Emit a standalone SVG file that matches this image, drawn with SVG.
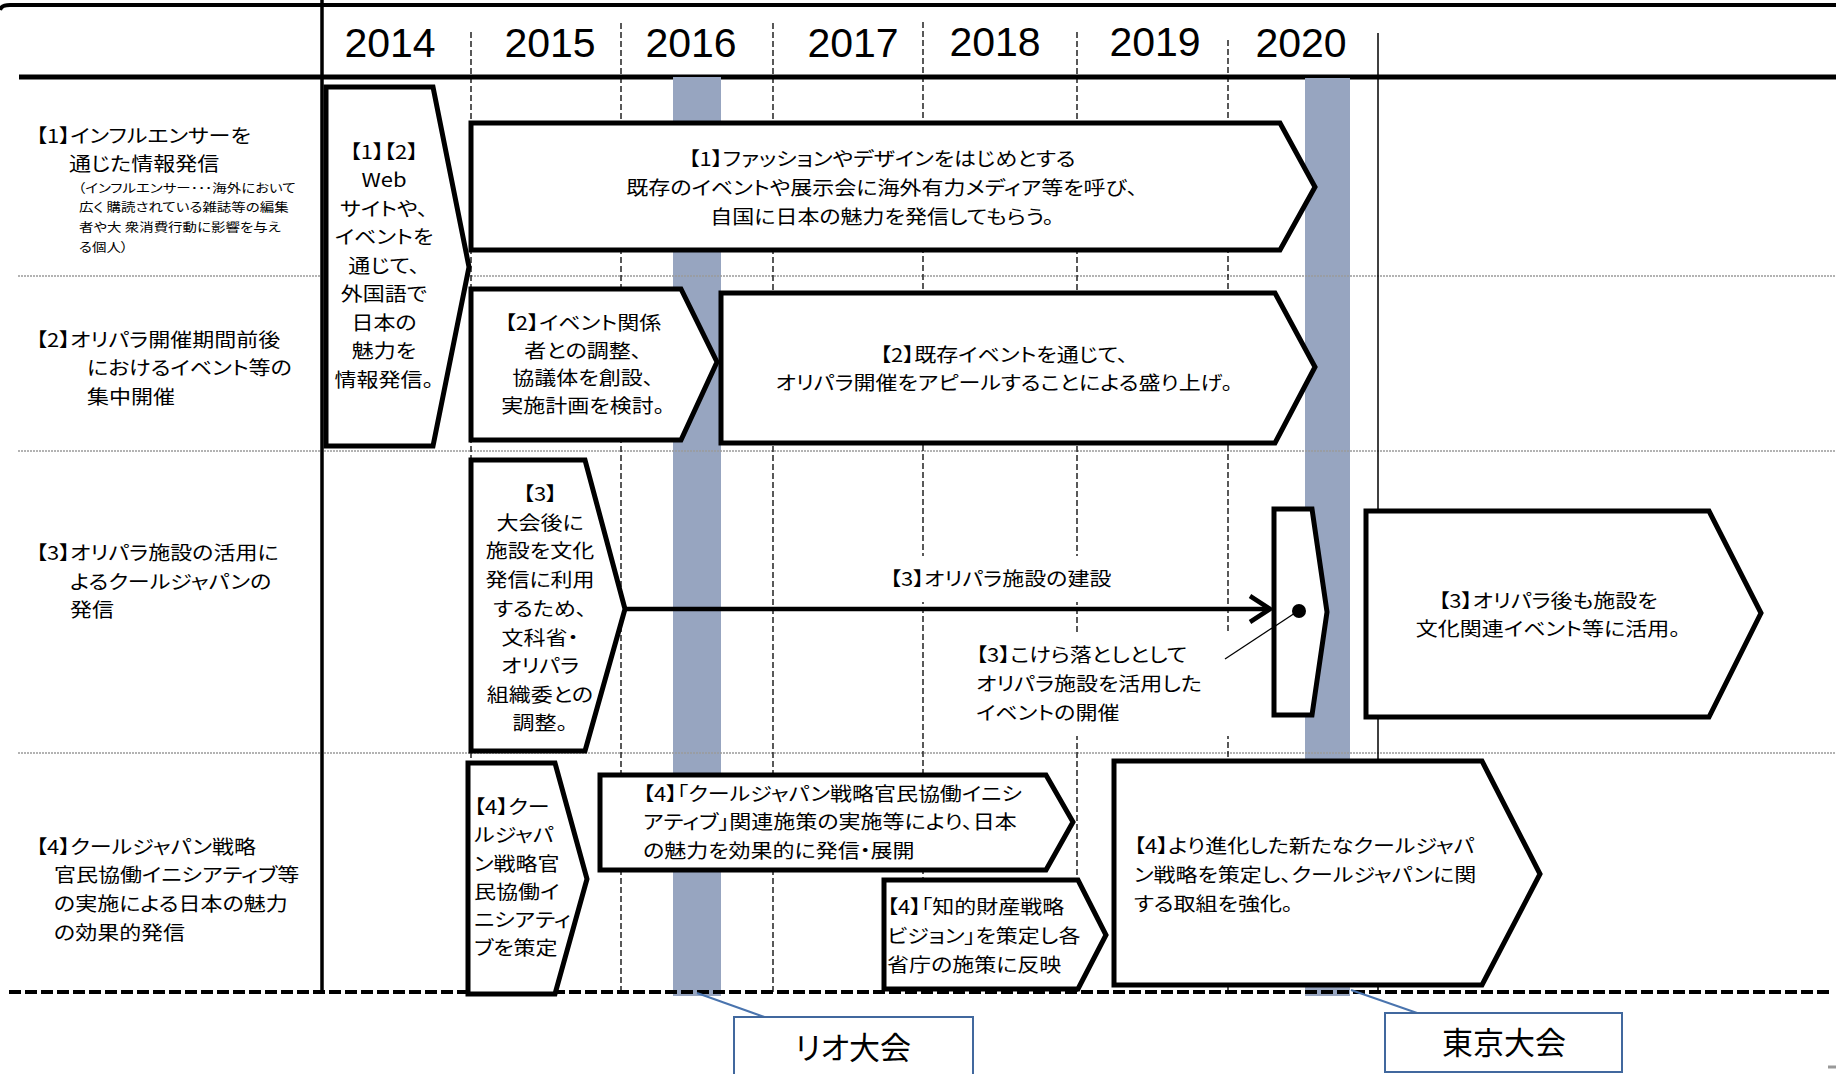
<svg xmlns="http://www.w3.org/2000/svg" width="1836" height="1074" viewBox="0 0 1836 1074">
<style>
.bg{fill:#fff}
.shape{fill:#fff;stroke:#000;stroke-width:5;stroke-linejoin:miter}
.t{font-family:"Noto Sans CJK JP","Noto Sans",sans-serif;font-size:19px;fill:#000;font-feature-settings:"palt"}
.s{font-size:12.5px}
.c{text-anchor:middle}
.yr{font-family:"Liberation Sans",Arial,sans-serif;font-size:41px;fill:#000;text-anchor:middle}
.vd{stroke:#000;stroke-width:1.3;stroke-dasharray:6 3;fill:none}
.sep{stroke:#9a9a9a;stroke-width:1.3;stroke-dasharray:2 1;fill:none}
.bar{fill:#97A5C0}
.olbox{fill:#fff;stroke:#41689E;stroke-width:2}
.olline{stroke:#4A74AE;stroke-width:2;fill:none}
.big{font-size:31px}
</style>
<rect class="bg" x="0" y="0" width="1836" height="1074"/>

<g id="grid">
  <path d="M0,10 Q1,5 10,5 L1836,5" stroke="#000" stroke-width="4" fill="none"/>
  <line x1="19" y1="77" x2="1836" y2="77" stroke="#000" stroke-width="5"/>
  <rect class="bar" x="673" y="77" width="48" height="919"/>
  <rect class="bar" x="1305" y="78" width="45" height="918"/>
  <line class="sep" x1="18" y1="276" x2="1836" y2="276"/>
  <line class="sep" x1="18" y1="451" x2="1836" y2="451"/>
  <line class="sep" x1="18" y1="753" x2="1836" y2="753"/>
  <line class="vd" x1="471" y1="32" x2="471" y2="993"/>
  <line class="vd" x1="621" y1="23" x2="621" y2="993"/>
  <line class="vd" x1="773" y1="23" x2="773" y2="993"/>
  <line class="vd" x1="923" y1="22" x2="923" y2="993"/>
  <line class="vd" x1="1077" y1="32" x2="1077" y2="993"/>
  <line class="vd" x1="1228" y1="40" x2="1228" y2="993"/>
  <line x1="1378" y1="33" x2="1378" y2="993" stroke="#000" stroke-width="1.5"/>
  <line x1="322" y1="0" x2="322" y2="993" stroke="#000" stroke-width="3.5"/>
  <line x1="9" y1="992" x2="1832" y2="992" stroke="#000" stroke-width="4" stroke-dasharray="12 4"/>
  <line x1="1828" y1="1067" x2="1836" y2="1067" stroke="#999" stroke-width="3"/>
</g>

<g id="years">
  <text class="yr" x="390" y="57">2014</text>
  <text class="yr" x="550" y="57">2015</text>
  <text class="yr" x="691" y="57">2016</text>
  <text class="yr" x="853" y="57">2017</text>
  <text class="yr" x="995" y="56">2018</text>
  <text class="yr" x="1155" y="56">2019</text>
  <text class="yr" x="1301" y="57">2020</text>
</g>

<g id="row-labels">
  <g id="label1">
    <text class="t" transform="translate(36 0) scale(1.158 1)"><tspan x="0" y="143">【1】インフルエンサーを</tspan><tspan x="28.5" y="171">通じた情報発信</tspan><tspan class="s" x="36.3" y="193">（インフルエンサー･･･海外において</tspan><tspan class="s" x="37.1" y="212">広く 購読されている雑誌等の編集</tspan><tspan class="s" x="37.1" y="232">者や大 衆消費行動に影響を与え</tspan><tspan class="s" x="37.1" y="252">る個人）</tspan></text>
  </g>
  <g id="label2">
    <text class="t" transform="translate(36 0) scale(1.158 1)"><tspan x="0" y="347">【2】オリパラ開催期間前後</tspan><tspan x="44" y="375">におけるイベント等の</tspan><tspan x="44" y="404">集中開催</tspan></text>
  </g>
  <g id="label3">
    <text class="t" transform="translate(36 0) scale(1.158 1)"><tspan x="0" y="560">【3】オリパラ施設の活用に</tspan><tspan x="29.4" y="589">よるクールジャパンの</tspan><tspan x="29.4" y="617">発信</tspan></text>
  </g>
  <g id="label4">
    <text class="t" transform="translate(36 0) scale(1.158 1)"><tspan x="0" y="854">【4】クールジャパン戦略</tspan><tspan x="15.5" y="882">官民協働イニシアティブ等</tspan><tspan x="15.5" y="911">の実施による日本の魅力</tspan><tspan x="15.5" y="940">の効果的発信</tspan></text>
  </g>
</g>

<g id="nodeA">
  <polygon class="shape" points="326,87 433,87 469,267 433,446 326,446"/>
  <text class="t c" transform="translate(384 0) scale(1.158 1)"><tspan x="0" y="159">【1】【2】</tspan><tspan x="0" y="187.5">Web</tspan><tspan x="0" y="216">サイトや、</tspan><tspan x="0" y="244.5">イベントを</tspan><tspan x="0" y="273">通じて、</tspan><tspan x="0" y="301.5">外国語で</tspan><tspan x="0" y="330">日本の</tspan><tspan x="0" y="358.5">魅力を</tspan><tspan x="0" y="387">情報発信。</tspan></text>
</g>

<g id="nodeB">
  <polygon class="shape" points="471,123 1280,123 1315,187 1280,250 471,250"/>
  <text class="t c" transform="translate(882 0) scale(1.158 1)"><tspan x="0" y="166">【1】ファッションやデザインをはじめとする</tspan><tspan x="0" y="195">既存のイベントや展示会に海外有力メディア等を呼び、</tspan><tspan x="0" y="224">自国に日本の魅力を発信してもらう。</tspan></text>
</g>

<g id="nodeC">
  <polygon class="shape" points="471,289 681,289 717,362 681,440 471,440"/>
  <text class="t c" transform="translate(583 0) scale(1.158 1)"><tspan x="0" y="330">【2】イベント関係</tspan><tspan x="0" y="357.7">者との調整、</tspan><tspan x="0" y="385.4">協議体を創設、</tspan><tspan x="0" y="413">実施計画を検討。</tspan></text>
</g>

<g id="nodeD">
  <polygon class="shape" points="721,293 1275,293 1315,367 1275,443 721,443"/>
  <text class="t c" transform="translate(1004 0) scale(1.158 1)"><tspan x="0" y="362">【2】既存イベントを通じて、</tspan><tspan x="0" y="390">オリパラ開催をアピールすることによる盛り上げ。</tspan></text>
</g>

<g id="nodeE">
  <polygon class="shape" points="471,460 585,460 625,609 585,751 471,751"/>
  <text class="t c" transform="translate(540 0) scale(1.158 1)"><tspan x="0" y="501">【3】</tspan><tspan x="0" y="530">大会後に</tspan><tspan x="0" y="558">施設を文化</tspan><tspan x="0" y="587">発信に利用</tspan><tspan x="0" y="616">するため、</tspan><tspan x="0" y="645">文科省・</tspan><tspan x="0" y="673">オリパラ</tspan><tspan x="0" y="702">組織委との</tspan><tspan x="0" y="730">調整。</tspan></text>
</g>

<g id="nodeF">
  <polygon class="shape" points="468,763 555,763 587,879 555,994 468,994"/>
  <text class="t" transform="translate(474 0) scale(1.158 1)"><tspan x="0" y="814">【4】クー</tspan><tspan x="0" y="842">ルジャパ</tspan><tspan x="0" y="871">ン戦略官</tspan><tspan x="0" y="899">民協働イ</tspan><tspan x="0" y="927">ニシアティ</tspan><tspan x="0" y="955">ブを策定</tspan></text>
</g>

<g id="nodeG">
  <polygon class="shape" points="600,775 1046,775 1073,822 1046,870 600,870"/>
  <text class="t" transform="translate(643 0) scale(1.158 1)"><tspan x="0" y="801">【4】「クールジャパン戦略官民協働イニシ</tspan><tspan x="0" y="829">アティブ」関連施策の実施等により、日本</tspan><tspan x="0" y="858">の魅力を効果的に発信・展開</tspan></text>
</g>

<g id="nodeH">
  <polygon class="shape" points="884,880 1078,880 1106,935 1078,989 884,989"/>
  <text class="t" transform="translate(887 0) scale(1.158 1)"><tspan x="0" y="914">【4】「知的財産戦略</tspan><tspan x="0" y="943">ビジョン」を策定し各</tspan><tspan x="0" y="972">省庁の施策に反映</tspan></text>
</g>

<g id="nodeI">
  <polygon class="shape" points="1114,761 1482,761 1540,874 1482,985 1114,985"/>
  <text class="t" transform="translate(1134 0) scale(1.158 1)"><tspan x="0" y="853">【4】より進化した新たなクールジャパ</tspan><tspan x="0" y="882">ン戦略を策定し、クールジャパンに関</tspan><tspan x="0" y="911">する取組を強化。</tspan></text>
</g>

<g id="nodeK">
  <polygon class="shape" points="1366,511 1709,511 1761,613 1709,717 1366,717"/>
  <text class="t c" transform="translate(1548 0) scale(1.158 1)"><tspan x="0" y="608">【3】オリパラ後も施設を</tspan><tspan x="0" y="636">文化関連イベント等に活用。</tspan></text>
</g>

<g id="label-build">
  <rect class="bg" x="882" y="556" width="248" height="46"/>
  <text class="t" transform="translate(890 0) scale(1.158 1)" x="0" y="586">【3】オリパラ施設の建設</text>
</g>

<g id="label-kokera">
  <rect class="bg" x="968" y="632" width="265" height="104"/>
  <text class="t" transform="translate(976 0) scale(1.158 1)"><tspan x="0" y="662">【3】こけら落としとして</tspan><tspan x="0" y="691">オリパラ施設を活用した</tspan><tspan x="0" y="720">イベントの開催</tspan></text>
</g>

<g id="nodeJ">
  <polygon class="shape" points="1274,509 1312,509 1327,612 1312,715 1274,715"/>
  <circle cx="1299" cy="611" r="7" fill="#000"/>
</g>

<g id="connectors">
  <line x1="625" y1="609" x2="1268" y2="609" stroke="#000" stroke-width="4.5"/>
  <polyline points="1250,596 1270,609 1250,622" fill="none" stroke="#000" stroke-width="4.5"/>
  <line x1="1298" y1="611" x2="1225" y2="659" stroke="#000" stroke-width="1.3"/>
  <line class="olline" x1="697" y1="993" x2="770" y2="1019"/>
  <line class="olline" x1="1351" y1="990" x2="1420" y2="1014"/>
</g>

<g id="rio">
  <rect class="olbox" x="734" y="1017" width="239" height="72"/>
  <text class="t big c" x="853" y="1059">リオ大会</text>
</g>

<g id="tokyo">
  <rect class="olbox" x="1385" y="1013" width="237" height="59"/>
  <text class="t big c" x="1504" y="1054">東京大会</text>
</g>
</svg>
